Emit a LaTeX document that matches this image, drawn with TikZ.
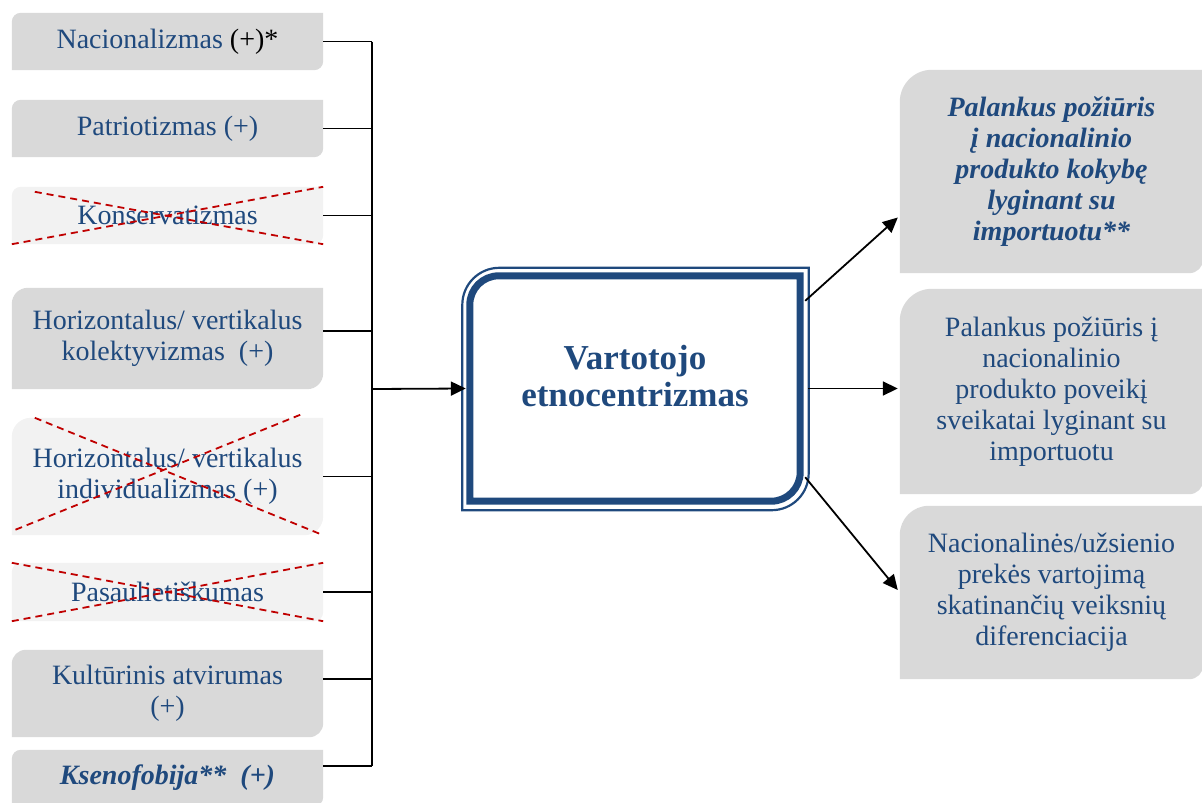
\documentclass[tikz,border=0pt]{standalone}
\usepackage{fontspec}
\setmainfont{Liberation Serif}
\usetikzlibrary{arrows.meta,backgrounds,calc}
\definecolor{ecblue}{HTML}{1F497D}
\definecolor{boxgray}{HTML}{D9D9D9}
\definecolor{boxlight}{HTML}{F2F2F2}
\definecolor{crossred}{HTML}{C00000}
\tikzset{
    ec diagram/.style = {x=1pt, y=-1pt, >={Triangle[length=15pt, width=14pt]}},
    line/.style       = {line width=1.8pt},
    arrow/.style      = {line, ->},
    factor/.style     = {inner sep=0pt, align=center, text=ecblue,
                         font=\fontsize{28}{31}\selectfont,
                         minimum width=311},
    key factor/.style = {factor,
                         font=\fontsize{28}{31}\selectfont\bfseries\itshape},
    outcome/.style    = {factor, minimum width=303},
    key outcome/.style = {key factor, minimum width=303},
    core/.style       = {inner sep=0pt, align=center, text=ecblue,
                         font=\fontsize{35}{37}\selectfont\bfseries},
    frame/.style      = {inner sep=0pt},
    crossout/.style   = {draw=crossred, line width=1.8pt,
                         dash pattern=on 7pt off 5pt}
}
% box with rounded top-left and bottom-right corners
\newcommand\roundiag[4]{%
    \path[#1] (#2.north east) -- ($(#2.south east)+(0pt,#4)$)
        arc[start angle=0, end angle=-90, radius=#4] -- (#2.south west)
        -- ($(#2.north west)+(0pt,-#3)$)
        arc[start angle=180, end angle=90, radius=#3] -- cycle;}

\begin{document}
\begin{tikzpicture}[ec diagram]
\useasboundingbox (0,0) rectangle (1202,803);

% ================= Left factors =================
\node[factor, minimum height=57]  (l1) at (167.5, 41.5)
    {Nacionalizmas \textcolor{black}{(+)*}};
\node[factor, minimum height=57]  (l2) at (167.5, 128.5) {Patriotizmas (+)};
\node[factor, minimum height=57]  (l3) at (167.5, 215.5) {Konservatizmas};
\node[factor, minimum height=101] (l4) at (167.5, 338.5)
    {Horizontalus/ vertikalus\\kolektyvizmas~~(+)};
\node[factor, minimum height=117] (l5) at (167.5, 476.5)
    {Horizontalus/ vertikalus\\individualizmas (+)};
\node[factor, minimum height=58]  (l6) at (167.5, 592) {Pasaulietiškumas};
\node[factor, minimum height=87]  (l7) at (167.5, 693.5)
    {Kultūrinis atvirumas\\(+)};
\node[key factor, minimum height=56] (l8) at (167.5, 778)
    {Ksenofobija**~~(+)};

% ================= Consumer ethnocentrism =================
\node[frame, minimum width=330, minimum height=225] (ecframe) at (635, 388.5) {};
\node[frame, minimum width=346, minimum height=242] (ecrim) at (635.5, 389) {};
\node[core] (ec) at (635, 376) {Vartotojo\\etnocentrizmas};
\roundiag{draw=ecblue, line width=7pt}{ecframe}{29pt}{29pt}
\roundiag{draw=ecblue, line width=2.2pt}{ecrim}{37pt}{37pt}

% ================= Outcomes =================
\node[key outcome, minimum height=203] (r1) at (1051.5, 171.5)
    {Palankus požiūris\\į nacionalinio\\produkto kokybę\\lyginant su\\importuotu**};
\node[outcome, minimum height=205] (r2) at (1051.5, 391.5)
    {Palankus požiūris į\\nacionalinio\\produkto poveikį\\sveikatai lyginant su\\importuotu};
\node[outcome, minimum height=173] (r3) at (1051.5, 592.5)
    {Nacionalinės/užsienio\\prekės vartojimą\\skatinančių veiksnių\\diferenciacija};

% ================= Box fills =================
\begin{scope}[on background layer]
    \roundiag{fill=boxgray}{l1}{9pt}{9pt}
    \roundiag{fill=boxgray}{l2}{9pt}{9pt}
    \roundiag{fill=boxlight}{l3}{9pt}{9pt}
    \roundiag{fill=boxgray}{l4}{16pt}{16pt}
    \roundiag{fill=boxlight}{l5}{19pt}{19pt}
    \roundiag{fill=boxlight}{l6}{9pt}{9pt}
    \roundiag{fill=boxgray}{l7}{14pt}{14pt}
    \roundiag{fill=boxgray}{l8}{9pt}{9pt}
    \roundiag{fill=boxgray}{r1}{32pt}{14pt}
    \roundiag{fill=boxgray}{r2}{32pt}{14pt}
    \roundiag{fill=boxgray}{r3}{29pt}{14pt}
\end{scope}

% ================= Crossed-out factors =================
\draw[crossout] ([xshift=23pt, yshift=-5pt]l3.north west) -- (l3.south east);
\draw[crossout] (l3.south west) -- (l3.north east);
\draw[crossout] ([xshift=23pt]l5.north west) -- (l5.south east);
\draw[crossout] ([xshift=-23pt, yshift=3pt]l5.north east) -- ([yshift=4pt]l5.south west);
\draw[crossout] (l6.north west) -- (l6.south east);
\draw[crossout] (l6.south west) -- (l6.north east);

% ================= Connectors =================
\coordinate (spine) at (372, 389);
\foreach \f/\dy in {l1/0, l2/0, l3/0, l4/7.5, l5/0, l6/0, l7/14.5, l8/12}
    \draw[line] ([yshift=\dy pt]\f.east) coordinate (c\f) -- (c\f -| spine);
\draw[line] (spine |- cl1) -- (spine |- cl8);
\draw[arrow] (spine) -- ([xshift=-4pt]ecframe.west);

\draw[arrow] ([xshift=5pt, yshift=-25pt]ecframe.north east)
    -- ([xshift=-2pt, yshift=-46pt]r1.west);
\draw[arrow] ([xshift=8pt]ecframe.east) -- ([xshift=-2pt]ecframe.east -| r2.west);
\draw[arrow] ([xshift=5pt, yshift=24pt]ecframe.south east)
    -- ([xshift=-2pt, yshift=2.5pt]r3.west);

\end{tikzpicture}
\end{document}
